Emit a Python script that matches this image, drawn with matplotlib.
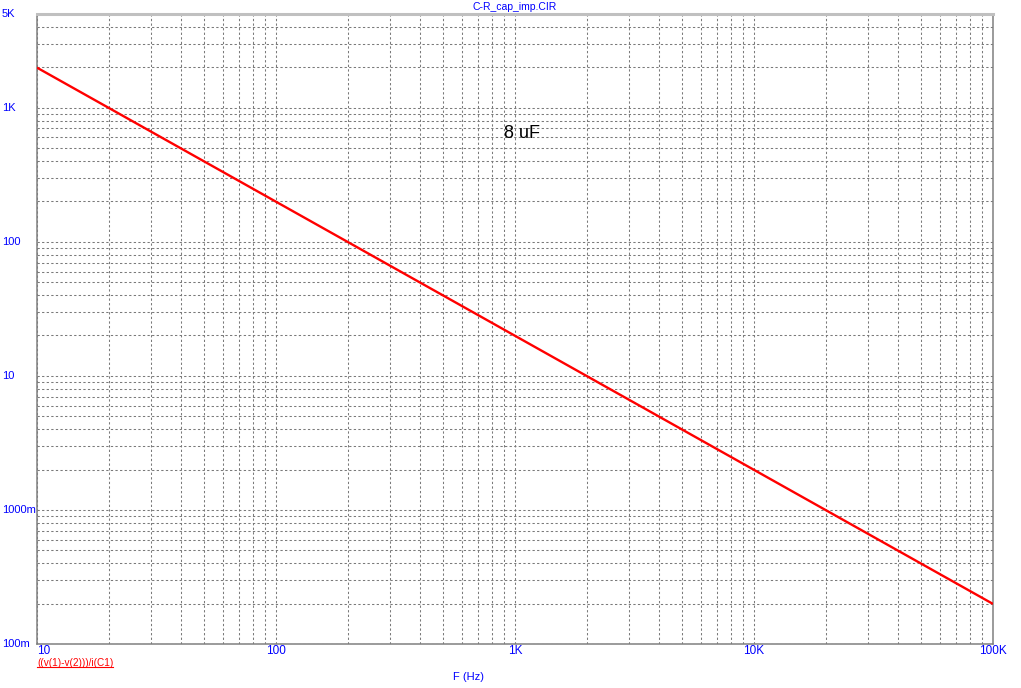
import matplotlib
matplotlib.use("Agg")
import matplotlib.pyplot as plt
from matplotlib.ticker import LogLocator, NullFormatter, FixedLocator
from matplotlib.lines import Line2D
import matplotlib.transforms as mtransforms

# ---- data ----
freq_hz = [10, 100000]
impedance_ohm = [1990, 0.199]
x_tick_vals = [10, 100, 1000, 10000, 100000]
x_tick_labels = ["10", "100", "1K", "10K", "100K"]
y_tick_vals = [0.1, 1, 10, 100, 1000, 5000]
y_tick_labels = ["100m", "1000m", "10", "100", "1K", "5K"]
title_text = "C-R_cap_imp.CIR"
curve_label = "((v(1)-v(2)))/i(C1)"
x_label = "F (Hz)"
note_text = "8 uF"
note_pos = (900, 640)

BLUE = "#0000ff"
RED = "#ff0000"
W, H = 1021, 688

plt.rcParams['font.family'] = ['Liberation Sans', 'DejaVu Sans']
fig = plt.figure(figsize=(W / 100, H / 100), dpi=100)
ax = fig.add_axes([37 / W, 1 - 644 / H, (993 - 37) / W, (644 - 14) / H])

ax.set_xscale('log')
ax.set_yscale('log')
ax.set_xlim(10, 100000)
ax.set_ylim(0.1, 5000)

ax.plot(freq_hz, impedance_ohm, color=RED, lw=1.7, solid_capstyle='butt', zorder=5)

# ticks / grid
ax.xaxis.set_major_locator(FixedLocator(x_tick_vals))
ax.set_xticklabels(x_tick_labels)
ax.xaxis.set_minor_locator(LogLocator(base=10, subs=range(2, 10), numticks=20))
ax.xaxis.set_minor_formatter(NullFormatter())
ax.yaxis.set_major_locator(FixedLocator(y_tick_vals))
ax.yaxis.set_minor_locator(LogLocator(base=10, subs=range(2, 10), numticks=20))
ax.yaxis.set_minor_formatter(NullFormatter())
ax.set_yticklabels([])
ax.tick_params(which='both', length=0)
ax.tick_params(axis='x', pad=1, labelsize=8.5, labelcolor=BLUE)
xl = ax.get_xticklabels()
xl[0].set_ha('left')

ax.grid(True, which='both', color='#7a7a7a', lw=0.75, linestyle=(0, (2.2, 2.2)))
ax.set_axisbelow(True)

# y labels, left aligned at the figure edge
trans = mtransforms.blended_transform_factory(fig.transFigure, ax.transData)
for v, lab in zip(y_tick_vals, y_tick_labels):
    ax.text(2 / W, v, lab, transform=trans, ha='left', va='center',
            fontsize=8, color=BLUE, clip_on=False)

# spines
for s in ['left', 'bottom', 'right']:
    ax.spines[s].set_color('#808080')
    ax.spines[s].set_linewidth(1.1)
ax.spines['top'].set_color('#c0c0c0')
ax.spines['top'].set_linewidth(2.2)

# title
fig.text(515 / W, 1 - 7 / H, title_text, ha='center', va='center', fontsize=7.5, color=BLUE)

# annotation
ax.text(note_pos[0], note_pos[1], note_text, ha='left', va='center', fontsize=13, color='black')

# x label
fig.text(453 / W, 1 - 677 / H, x_label, ha='left', va='center', fontsize=8, color=BLUE)

# curve label underlined
t = fig.text(37 / W, 1 - 663 / H, curve_label, ha='left', va='center', fontsize=7.2, color=RED)
fig.canvas.draw()
bb = t.get_window_extent(fig.canvas.get_renderer())
x0, x1 = bb.x0 / W, bb.x1 / W
yl = (bb.y0 + 1) / H
fig.add_artist(Line2D([x0, x1], [yl, yl], transform=fig.transFigure, color=RED, lw=0.8))

fig.savefig("out.png", dpi=100)
